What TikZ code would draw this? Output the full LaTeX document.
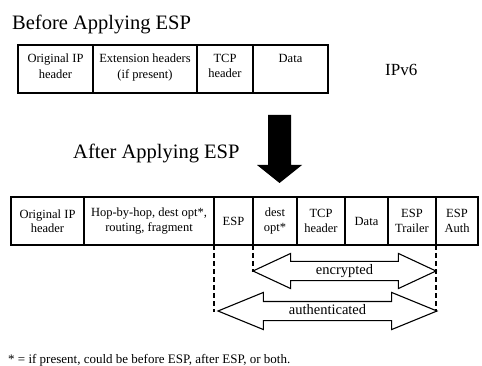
\documentclass[tikz,border=0pt]{standalone}
\usepackage{fontspec}
\setmainfont{Liberation Serif}
\usetikzlibrary{shapes.arrows,positioning}

\begin{document}
\begin{tikzpicture}[x=1pt,y=-1pt,
  box/.style={draw,line width=1.1pt,minimum height=48pt,inner sep=0pt,outer sep=0pt},
  boxtext/.style={align=center,font=\fontsize{12.5}{15.5}\selectfont,inner sep=0pt},
  rowtext/.style={align=center,font=\fontsize{12.5}{14.5}\selectfont},
  title/.style={anchor=base west,font=\fontsize{20.5}{24}\selectfont,inner sep=0pt},
  band/.style={double arrow,draw,line width=1.1pt,inner xsep=0pt,inner ysep=3pt,
    text height=9pt,text depth=3pt,font=\fontsize{14.5}{16}\selectfont},
  cut/.style={line width=1.2pt,dash pattern=on 5pt off 3pt}]
\useasboundingbox (0,0) rectangle (482,366);

% packet before ESP
\node[title] (before) at (12,30) {Before Applying ESP};
\node[box,minimum width=75pt,anchor=north west] (ip) at (18,45) {};
\node[box,minimum width=104pt,right=0pt of ip] (ext) {};
\node[box,minimum width=56pt,right=0pt of ext] (tcp) {};
\node[box,minimum width=75pt,right=0pt of tcp] (data) {};
\node[boxtext,below=9pt of ip.north] (iptext) {Original IP\\header};
\node[boxtext,below=9pt of ext.north] (exttext) {Extension headers\\(if present)};
\node[boxtext,below=9pt of tcp.north] (tcptext) {TCP\\header};
\node[boxtext,below=9pt of data.north] (datatext) {Data};
\node[anchor=base west,inner sep=0pt,font=\fontsize{17}{20}\selectfont] (ipv6) at (385,76) {IPv6};

% big arrow
\fill (268,115) -- (291,115) -- (291,165) -- (302,165) -- (279.5,183) -- (257,165) -- (268,165) -- cycle;

% packet after ESP
\node[title] (after) at (73,159) {After Applying ESP};
\node[box,rowtext,minimum width=73pt,anchor=north west] (oip) at (11,197) {Original IP\\header};
\node[box,rowtext,minimum width=130pt,right=0pt of oip] (hop) {Hop-by-hop, dest opt*,\\routing, fragment};
\node[box,rowtext,minimum width=39pt,right=0pt of hop] (esp) {ESP};
\node[box,rowtext,minimum width=44pt,right=0pt of esp] (dest) {dest\\opt*};
\node[box,rowtext,minimum width=48pt,right=0pt of dest] (otcp) {TCP\\header};
\node[box,rowtext,minimum width=43pt,right=0pt of otcp] (odata) {Data};
\node[box,rowtext,minimum width=48pt,right=0pt of odata] (trailer) {ESP\\Trailer};
\node[box,rowtext,minimum width=42pt,right=0pt of trailer] (auth) {ESP\\Auth};

\draw[cut] (esp.south west) -- ++(0,67);
\draw[cut] (esp.south east) -- ++(0,27);
\draw[cut] (trailer.south east) -- ++(0,67);

% coverage
\node[band,minimum height=183pt,double arrow head extend=8pt,double arrow tip angle=50] (enc) at (344.5,271) {encrypted};
\node[band,minimum height=219pt,double arrow head extend=9pt,double arrow tip angle=44.5] (authd) at (327.5,311) {authenticated};

\node[anchor=base west,inner sep=0pt,font=\fontsize{13}{15}\selectfont] (note) at (8,363) {* = if present, could be before ESP, after ESP, or both.};
\end{tikzpicture}
\end{document}
